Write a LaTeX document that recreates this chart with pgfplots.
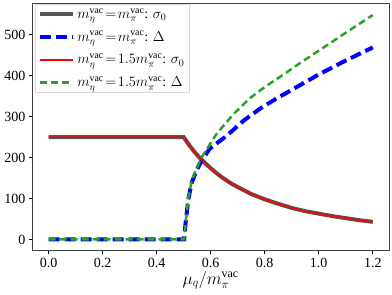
\documentclass[border=0pt]{standalone}
\usepackage{fontspec}
\setmainfont{Liberation Serif}
\usepackage{pgfplots}
\pgfplotsset{compat=1.18}
\definecolor{mplgreen}{RGB}{44,160,44}
\definecolor{sgray}{RGB}{85,85,85}
\begin{document}
\begin{tikzpicture}
\begin{axis}[
  width=356.7pt, height=247.7pt, scale only axis,
  xmin=-0.06, xmax=1.26, ymin=-27.5, ymax=577.5,
  xtick={0,0.2,0.4,0.6,0.8,1.0,1.2},
  ytick={0,100,200,300,400,500},
  xticklabel style={/pgf/number format/.cd,fixed,fixed zerofill,precision=1},
  /pgf/number format/assume math mode=true,
  tick label style={font=\fontsize{14}{14}\selectfont},
  tick align=outside, tick pos=left,
  major tick length=3.5pt,
  every tick/.style={black, line width=0.8pt},
  axis line style={black!75, line width=0.8pt},
  xlabel={$\mu_q/m_\pi^{\mathrm{vac}}$},
  xlabel style={font=\fontsize{17}{17}\selectfont, yshift=3pt},
  legend style={at={(0.008,0.995)}, anchor=north west, draw=black!15, fill=white,
    font=\fontsize{14}{16}\selectfont, row sep=7.5pt, inner xsep=3pt, inner ysep=2pt},
  legend cell align=left,
  legend image code/.code={\draw[#1] (0pt,0pt) -- (33pt,0pt);},
]
\addplot[sgray, line width=4pt] coordinates {
(0,250) (0.1,250) (0.2,250) (0.3,250) (0.4,250) (0.5,250)
(0.52,231) (0.54,214) (0.56,199) (0.58,186) (0.6,174) (0.625,160) (0.65,148)
(0.675,137) (0.7,128) (0.75,111) (0.8,98) (0.85,87) (0.9,77) (0.95,69)
(1.0,63) (1.05,57) (1.1,52) (1.15,47) (1.2,43)};
\addlegendentry{$m_\eta^{\mathrm{vac}}\!=\!m_\pi^{\mathrm{vac}}$: $\sigma_0$}
\addplot[blue, line width=4pt, dash pattern=on 11pt off 5pt] coordinates {
(0,0) (0.502,0) (0.507,39) (0.517,96) (0.529,137) (0.548,169) (0.569,195)
(0.597,222) (0.659,253) (0.720,289) (0.782,319) (0.843,344) (0.923,374)
(1.0,403) (1.1,437) (1.2,469)};
\addlegendentry{$m_\eta^{\mathrm{vac}}\!=\!m_\pi^{\mathrm{vac}}$: $\Delta$}
\addplot[color=red, line width=1.6pt] coordinates {
(0,250) (0.1,250) (0.2,250) (0.3,250) (0.4,250) (0.5,250)
(0.52,231) (0.54,214) (0.56,199) (0.58,186) (0.6,174) (0.625,160) (0.65,148)
(0.675,137) (0.7,128) (0.75,111) (0.8,98) (0.85,87) (0.9,77) (0.95,69)
(1.0,63) (1.05,57) (1.1,52) (1.15,47) (1.2,43)};
\addlegendentry{$m_\eta^{\mathrm{vac}}\!=\!1.5m_\pi^{\mathrm{vac}}$: $\sigma_0$}
\addplot[mplgreen, line width=2.5pt, dash pattern=on 7pt off 4pt] coordinates {
(0,0) (0.502,0) (0.507,40) (0.517,98) (0.529,140) (0.548,175) (0.569,203)
(0.622,258) (0.683,305) (0.745,345) (0.806,375) (0.868,402) (0.929,430)
(1.0,461) (1.1,505) (1.2,548)};
\addlegendentry{$m_\eta^{\mathrm{vac}}\!=\!1.5m_\pi^{\mathrm{vac}}$: $\Delta$}
\end{axis}
\pgfresetboundingbox
\path ([shift={(-32.3pt,-43.3pt)}]current axis.south west) rectangle ([shift={(3pt,3pt)}]current axis.north east);
\end{tikzpicture}
\end{document}
